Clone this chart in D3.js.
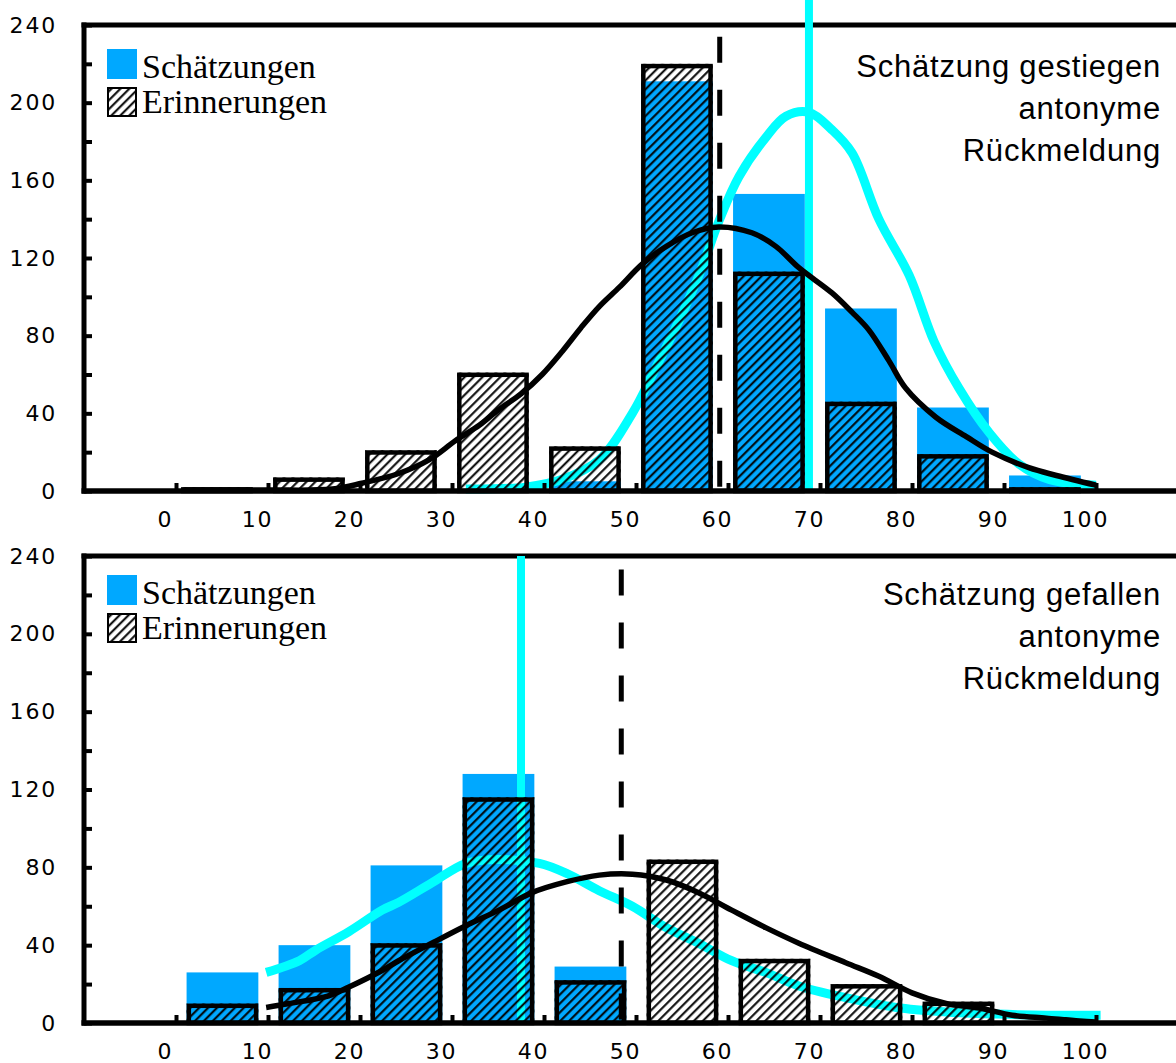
<!DOCTYPE html>
<html>
<head>
<meta charset="utf-8">
<script src="https://cdn.jsdelivr.net/npm/d3@7"></script>
<style>
  html, body { margin: 0; padding: 0; background: #fff; }
  svg { display: block; }
</style>
</head>
<body>
<svg id="chart" width="1176" height="1063"></svg>
<script>
// ---- data -------------------------------------------------------------
const binStarts = [0, 10, 20, 30, 40, 50, 60, 70, 80, 90];
const xTickValues = [0, 10, 20, 30, 40, 50, 60, 70, 80, 90, 100];
const yTickValues = [0, 20, 40, 60, 80, 100, 120, 140, 160, 180, 200, 220, 240];
const yLabelValues = [0, 40, 80, 120, 160, 200, 240];
const legendLabels = ["Schätzungen", "Erinnerungen"];

// panel 1: estimate rose
const roseTitle = ["Schätzung gestiegen", "antonyme", "Rückmeldung"];
const roseEstimates = [0, 0, 0, 0, 5, 211, 153, 94, 43, 8];
const roseRecalls   = [2, 7, 21, 61, 23, 220, 113, 46, 19, 2];
const roseEstFitX = [31.5, 38, 42, 46, 49.6, 52, 54.7, 57, 59.1, 61.2, 64.1, 66.3, 68.8, 71.3, 73.5, 76.4, 79.7, 82.4, 85.1, 88.4, 91.6, 94.9, 100];
const roseEstFitY = [1, 2, 6, 16, 40, 62, 88, 113, 140, 162, 182, 193, 195, 186, 174, 140, 111, 77, 53, 30, 14, 6, 3];
const roseRecFitX = [1, 10, 17, 20.2, 24.2, 27.5, 30.4, 33, 35.1, 37.5, 39.8, 42, 44, 46, 48.2, 50.7, 53.3, 56.1, 59, 62.6, 65.2, 67.7, 71.3, 73.5, 75.3, 77.5, 79.3, 82.6, 85.9, 88.7, 92.7, 95.7, 100];
const roseRecFitY = [0.5, 0.5, 1, 4, 9, 16, 26, 34, 42, 50, 60, 72, 84, 95, 105, 117, 126, 133, 136, 133, 126, 115, 102, 92, 83, 67, 53, 38, 28, 20, 12, 8, 3];
const roseEstMean = 68.8;
const roseRecMean = 59.1;

// panel 2: estimate fell
const fellTitle = ["Schätzung gefallen", "antonyme", "Rückmeldung"];
const fellEstimates = [26, 40, 81, 128, 29, 0, 0, 0, 0, 0];
const fellRecalls   = [10, 18, 41, 116, 22, 84, 33, 20, 11, 0];
const fellEstFitX = [9.8, 13.4, 15.2, 18.8, 22.4, 24.2, 27.8, 31.5, 35.1, 39.5, 42.4, 46, 49.6, 53.3, 56.8, 60.4, 64.1, 67.7, 72.8, 78.3, 83.7, 89.1, 94.6, 100.5];
const fellEstFitY = [26, 32, 37.5, 47, 58, 62, 72, 82, 84, 82, 77, 68, 60, 49, 41, 32, 26, 19, 13, 8, 5.7, 4.6, 4, 4];
const fellRecFitX = [9.8, 12.3, 16.6, 18.8, 22.4, 24.2, 27.8, 31.5, 35.1, 38.7, 42.4, 46, 49.6, 53.3, 56.8, 60.4, 64.1, 67.7, 72.8, 76.4, 80, 83.7, 87.3, 90.9, 94.6, 98.2, 100];
const fellRecFitY = [8, 10, 14, 18.5, 27, 32, 41, 50, 58, 67, 72.5, 76, 76.5, 73.5, 67, 58, 49, 41, 31, 24, 15.5, 10, 7.7, 4, 2.5, 1, 0.5];
const fellEstMean = 37.5;
const fellRecMean = 48.4;

// ---- styles -----------------------------------------------------------
const BLUE = "#00a8ff";
const CYAN = "#00ffff";
const BAR_WIDTH = 7.8;           // in x units
const AXIS_FONT = "'DejaVu Sans', sans-serif";
const TITLE_FONT = "'Liberation Sans', Arial, sans-serif";
const LEGEND_FONT = "'Liberation Serif', 'Times New Roman', serif";

const svg = d3.select("#chart");
const W = 1176;

// shared x scale (value axis of the histogram)
const x = d3.scaleLinear().domain([-10, 110]).range([84, 1188]);

// hatch pattern used for the recall bars: diagonal "/" strokes
const defs = svg.append("defs");
const pat = defs.append("pattern")
  .attr("id", "hatch")
  .attr("patternUnits", "userSpaceOnUse")
  .attr("width", 6.3).attr("height", 6.3)
  .attr("patternTransform", "rotate(45)");
pat.append("line")
  .attr("x1", 3).attr("y1", -1).attr("x2", 3).attr("y2", 7.3)
  .attr("stroke", "#000").attr("stroke-width", 2);

const panels = [
  {
    yTop: 25, yBase: 491, barShift: 0.55,
    estimates: roseEstimates, recalls: roseRecalls,
    estFit: d3.zip(roseEstFitX, roseEstFitY), recFit: d3.zip(roseRecFitX, roseRecFitY),
    estMean: roseEstMean, recMean: roseRecMean, estMeanTop: 253, recMeanTop: 234,
    title: roseTitle, titleY: 77, legendY: 49
  },
  {
    yTop: 556, yBase: 1023, barShift: 1.15,
    estimates: fellEstimates, recalls: fellRecalls,
    estFit: d3.zip(fellEstFitX, fellEstFitY), recFit: d3.zip(fellRecFitX, fellRecFitY),
    estMean: fellEstMean, recMean: fellRecMean, estMeanTop: 240, recMeanTop: 233,
    title: fellTitle, titleY: 605, legendY: 575
  }
];

panels.forEach(p => {
  const y = d3.scaleLinear().domain([0, 240]).range([p.yBase, p.yTop]);
  const g = svg.append("g");
  const line = d3.line().x(d => x(d[0])).y(d => y(d[1])).curve(d3.curveCatmullRom.alpha(0.5));

  // top and left frame
  g.append("line")
    .attr("x1", x(-10) - 2.5).attr("x2", W)
    .attr("y1", y(240)).attr("y2", y(240))
    .attr("stroke", "#000").attr("stroke-width", 5);
  g.append("line")
    .attr("x1", x(-10)).attr("x2", x(-10))
    .attr("y1", y(240) - 2.5).attr("y2", y(0) + 2.5)
    .attr("stroke", "#000").attr("stroke-width", 5);

  // estimate bars
  g.append("g").selectAll("rect")
    .data(binStarts.map((b, i) => ({ b, v: p.estimates[i] })))
    .join("rect")
    .attr("x", d => x(d.b + p.barShift))
    .attr("width", d => x(d.b + p.barShift + BAR_WIDTH) - x(d.b + p.barShift))
    .attr("y", d => y(d.v))
    .attr("height", d => y(0) - y(d.v))
    .attr("fill", BLUE);

  // estimate fit curve and mean
  g.append("path")
    .attr("d", line(p.estFit))
    .attr("fill", "none").attr("stroke", CYAN).attr("stroke-width", 9);
  g.append("line")
    .attr("x1", x(p.estMean)).attr("x2", x(p.estMean))
    .attr("y1", y(p.estMeanTop)).attr("y2", y(0))
    .attr("stroke", CYAN).attr("stroke-width", 8);

  // recall bars: hatch fill, then a heavy outline drawn inside the bar
  const rec = binStarts.map((b, i) => ({ b, v: p.recalls[i] })).filter(d => d.v > 0);
  g.append("g").selectAll("rect")
    .data(rec)
    .join("rect")
    .attr("x", d => x(d.b + p.barShift))
    .attr("width", d => x(d.b + p.barShift + BAR_WIDTH) - x(d.b + p.barShift))
    .attr("y", d => y(d.v))
    .attr("height", d => y(0) - y(d.v))
    .attr("fill", "url(#hatch)");
  g.append("g").selectAll("rect")
    .data(rec)
    .join("rect")
    .attr("x", d => x(d.b + p.barShift) + 2.25)
    .attr("width", d => x(d.b + p.barShift + BAR_WIDTH) - x(d.b + p.barShift) - 4.5)
    .attr("y", d => y(d.v) + 2.25)
    .attr("height", d => Math.max(y(0) - y(d.v) - 2.25, 0.5))
    .attr("fill", "none").attr("stroke", "#000").attr("stroke-width", 4.5);

  // recall fit curve and mean
  g.append("path")
    .attr("d", line(p.recFit))
    .attr("fill", "none").attr("stroke", "#000").attr("stroke-width", 5.5);
  g.append("line")
    .attr("x1", x(p.recMean)).attr("x2", x(p.recMean))
    .attr("y1", y(p.recMeanTop)).attr("y2", y(0))
    .attr("stroke", "#000").attr("stroke-width", 5)
    .attr("stroke-dasharray", "26,27");

  // baseline
  g.append("line")
    .attr("x1", x(-10) - 2.5).attr("x2", W)
    .attr("y1", y(0)).attr("y2", y(0))
    .attr("stroke", "#000").attr("stroke-width", 5.5);

  // y axis: inward ticks every 20, labels every 40
  const yAxis = d3.axisLeft(y)
    .tickValues(yTickValues)
    .tickSize(-8)
    .tickPadding(27)
    .tickFormat(d => yLabelValues.includes(d) ? String(d) : "");
  const ya = g.append("g").attr("transform", `translate(${x(-10)},0)`).call(yAxis);
  ya.select(".domain").remove();
  ya.selectAll(".tick line").attr("stroke", "#000").attr("stroke-width", 4);
  ya.selectAll(".tick text")
    .attr("font-family", AXIS_FONT).attr("font-size", 22)
    .attr("letter-spacing", 1.8).attr("fill", "#000");

  // x axis: inward ticks, labels set slightly left of each tick
  const xAxis = d3.axisBottom(x)
    .tickValues(xTickValues)
    .tickSize(-8)
    .tickPadding(20)
    .tickFormat(d => String(d));
  const xa = g.append("g").attr("transform", `translate(0,${y(0)})`).call(xAxis);
  xa.select(".domain").remove();
  xa.selectAll(".tick line").attr("stroke", "#000").attr("stroke-width", 4);
  xa.selectAll(".tick text")
    .attr("font-family", AXIS_FONT).attr("font-size", 22)
    .attr("letter-spacing", 1.8).attr("fill", "#000")
    .attr("dx", -11);

  // legend
  const lg = g.append("g");
  lg.append("rect")
    .attr("x", 107).attr("y", p.legendY).attr("width", 30).attr("height", 30)
    .attr("fill", BLUE);
  lg.append("rect")
    .attr("x", 108).attr("y", p.legendY + 39).attr("width", 28).attr("height", 28)
    .attr("fill", "url(#hatch)").attr("stroke", "#000").attr("stroke-width", 2);
  lg.selectAll("text")
    .data(legendLabels)
    .join("text")
    .attr("x", 142)
    .attr("y", (d, i) => p.legendY + 29 + i * 35)
    .attr("font-family", LEGEND_FONT).attr("font-size", 34)
    .attr("fill", "#000")
    .text(d => d);

  // panel title, right aligned
  g.append("g").selectAll("text")
    .data(p.title)
    .join("text")
    .attr("x", 1161)
    .attr("y", (d, i) => p.titleY + i * 42)
    .attr("text-anchor", "end")
    .attr("font-family", TITLE_FONT).attr("font-size", 31)
    .attr("letter-spacing", 0.8)
    .attr("fill", "#000")
    .text(d => d);
});
</script>
</body>
</html>
